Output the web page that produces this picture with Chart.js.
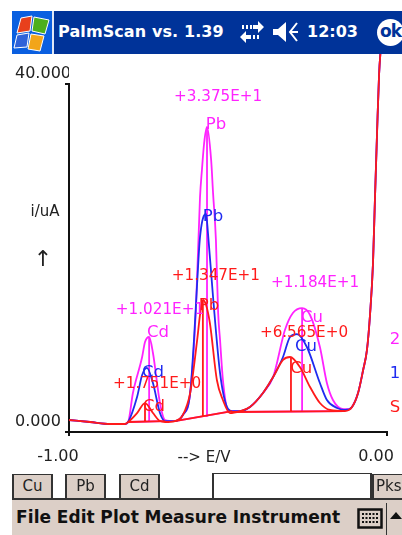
<!DOCTYPE html>
<html><head><meta charset="utf-8">
<script src="https://cdn.jsdelivr.net/npm/chart.js@4/dist/chart.umd.min.js"></script>
<style>
html,body{margin:0;padding:0;background:#fff;width:402px;height:535px;overflow:hidden;font-family:"DejaVu Sans",sans-serif}
#c{position:absolute;left:0;top:0;width:402px;height:535px}
.ab{position:absolute}
#bar{left:12px;top:11px;width:390px;height:43px;background:#003399;overflow:hidden;z-index:2}
#logo{left:0;top:0;width:42px;height:43px;background:#0a5fe0;border-right:2px solid #dfe6f5;box-sizing:border-box}
#title{left:46px;top:11px;color:#fff;font:bold 16px "DejaVu Sans";white-space:nowrap;letter-spacing:.1px}
#time{left:295px;top:11px;color:#fff;font:bold 16px "DejaVu Sans"}
#ok{left:365px;top:8px;width:27px;height:27px;border-radius:50%;background:#fff;color:#003399;font:bold 17px/25px "DejaVu Sans";text-align:center;letter-spacing:-1px}
.tab{position:absolute;top:474px;height:24px;box-sizing:border-box;border:2px solid #333;border-bottom:none;border-top-width:1px;background:#dccfc7;color:#222;font:15px/23px "DejaVu Sans";text-align:center;z-index:2;overflow:hidden}
#input{left:212px;top:473px;width:160px;height:25px;box-sizing:border-box;border:2px solid #333;border-bottom:none;border-top-width:1px;background:#fff;z-index:2}
#menu{left:12px;top:498px;width:390px;height:37px;background:#dccfc7;border-top:2px solid #333;box-sizing:border-box;z-index:2}
#mtext{left:4px;top:7px;font:bold 17px "DejaVu Sans";color:#111;white-space:pre;word-spacing:-.5px;letter-spacing:.1px}
#sep{left:374px;top:3px;width:1px;height:32px;background:#333}
</style></head><body>
<canvas id="c" width="402" height="535"></canvas>
<div class="ab" id="bar">
 <div class="ab" id="logo"><svg width="40" height="43" viewBox="0 0 40 43">
  <g stroke="#fff" stroke-width="1"><path d="M9 7 L20 5 L18 20 L5 22Z" fill="#e8401c"/><path d="M22 6 L37 9 L33 23 L20 20Z" fill="#4caf1e"/><path d="M5 24 L17 22 L15 36 L2 37Z" fill="#2f62d8"/><path d="M19 23 L32 25 L28 40 L16 38Z" fill="#f2a51a"/></g></svg></div>
 <div class="ab" id="title">PalmScan vs. 1.39</div>
 <svg class="ab" style="left:227px;top:8px" width="26" height="26" viewBox="0 0 26 26"><g fill="#fff"><path d="M14 6h5V2l6 6-6 6v-4h-5z"/><path d="M12 16H7v-4l-6 6 6 6v-4h5z"/><rect x="3" y="6" width="2" height="4"/><rect x="7" y="6" width="2" height="4"/><rect x="11" y="6" width="2" height="4"/><rect x="14" y="16" width="2" height="4"/><rect x="18" y="16" width="2" height="4"/></g></svg>
 <svg class="ab" style="left:260px;top:9px" width="28" height="24" viewBox="0 0 28 24"><path d="M1 9h5l8-7v20l-8-7H1z" fill="#fff"/><path d="M25 3l-7 9 7 9M18 12h8" stroke="#fff" stroke-width="2" fill="none"/></svg>
 <div class="ab" id="time">12:03</div>
 <div class="ab" id="ok">ok</div>
</div>
<div class="tab" style="left:12px;width:41px">Cu</div>
<div class="tab" style="left:65px;width:41px">Pb</div>
<div class="tab" style="left:119px;width:41px">Cd</div>
<div class="ab" id="input"></div>
<div class="tab" style="left:372px;width:32px;text-align:left;padding-left:2px;border-right:none">Pks</div>
<div class="ab" id="menu">
 <div class="ab" id="mtext">File Edit Plot Measure Instrument</div>
 <svg class="ab" style="left:345px;top:8px" width="26" height="22" viewBox="0 0 26 22"><rect x="1.5" y="1.5" width="23" height="18" fill="none" stroke="#111" stroke-width="2.5"/><path d="M5 6h16M5 10h16M5 14h16" stroke="#111" stroke-width="2" stroke-dasharray="2 1.5"/></svg>
 <div class="ab" id="sep"></div>
 <svg class="ab" style="left:378px;top:12px" width="12" height="8" viewBox="0 0 12 8"><path d="M6 0l6 7H0z" fill="#111"/></svg>
</div>
<script>
const redE=[-1.000,-0.934,-0.871,-0.824,-0.814,-0.786,-0.761,-0.736,-0.714,-0.698,-0.667,-0.642,-0.619,-0.597,-0.588,-0.579,-0.569,-0.557,-0.535,-0.516,-0.494,-0.462,-0.431,-0.390,-0.358,-0.327,-0.305,-0.274,-0.242,-0.211,-0.179,-0.132,-0.110,-0.091,-0.075,-0.063,-0.053,-0.044,-0.038,-0.031,-0.025,-0.019];
const redI=[1.38,1.15,0.92,0.92,1.15,2.18,3.33,2.18,1.26,1.15,1.26,1.95,4.48,10.57,13.45,15.17,14.60,12.53,5.98,3.68,2.18,2.41,2.87,4.48,6.32,8.28,8.62,7.47,5.17,3.33,2.53,2.41,2.87,4.48,7.13,9.43,13.68,19.42,26.67,34.71,41.03,44.48];
const blueE=[-1.000,-0.934,-0.871,-0.824,-0.814,-0.786,-0.770,-0.755,-0.736,-0.714,-0.698,-0.667,-0.642,-0.619,-0.607,-0.597,-0.588,-0.569,-0.563,-0.547,-0.525,-0.503,-0.487,-0.462,-0.431,-0.390,-0.358,-0.327,-0.305,-0.283,-0.252,-0.211,-0.189,-0.157,-0.132,-0.110,-0.091,-0.075,-0.063,-0.053,-0.044,-0.038,-0.031,-0.025,-0.019];
const blueI=[1.38,1.15,0.92,0.92,1.15,4.02,6.55,7.36,5.63,2.18,1.26,1.26,1.95,4.48,10.57,17.13,22.41,25.06,22.87,15.52,6.78,2.87,2.41,2.41,2.87,4.48,6.32,8.62,10.92,11.26,9.77,5.63,3.68,2.76,2.53,2.87,4.48,7.13,9.43,13.68,19.42,26.67,34.71,41.03,44.48];
const magE=[-1.000,-0.934,-0.871,-0.824,-0.814,-0.799,-0.770,-0.761,-0.748,-0.736,-0.714,-0.698,-0.667,-0.642,-0.619,-0.601,-0.588,-0.582,-0.575,-0.566,-0.553,-0.547,-0.538,-0.531,-0.525,-0.516,-0.500,-0.487,-0.462,-0.431,-0.390,-0.358,-0.321,-0.296,-0.267,-0.242,-0.211,-0.189,-0.170,-0.138,-0.116,-0.110,-0.091,-0.075,-0.063,-0.053,-0.044,-0.038,-0.031,-0.025,-0.019];
const magI=[1.38,1.15,0.92,0.92,1.15,4.48,8.62,10.34,10.92,9.08,3.33,1.38,1.26,1.95,4.48,14.02,27.01,30.11,33.22,35.06,31.26,27.47,22.07,13.68,10.57,5.98,2.53,2.41,2.41,2.87,4.48,6.32,11.72,13.68,14.25,13.45,9.77,5.63,3.68,2.64,2.64,2.87,4.48,7.13,9.43,13.68,19.42,26.67,34.71,41.03,44.48];
const redMarkE=[-0.761,-0.761,null,-0.579,-0.579,null,-0.302,-0.302,null,-0.814,-0.698,null,-0.667,-0.487,null,-0.487,-0.132];
const redMarkI=[1.15,3.33,null,1.72,15.17,null,2.30,8.62,null,1.15,1.26,null,1.26,2.41,null,2.30,2.41];
const magMarkE=[-0.748,-0.748,null,-0.566,-0.566,null,-0.267,-0.267,null,-0.814,-0.698,null,-0.667,-0.487,null,-0.487,-0.132];
const magMarkI=[1.15,10.92,null,1.72,35.06,null,2.30,14.25,null,1.15,1.26,null,1.26,2.41,null,2.30,2.41];
const xTicks=[-1,0], xTickLabels=['-1.00','0.00'];
const yTicks=[0,40], yTickLabels=['0.000','40.000'];
const labelText=['+3.375E+1','Pb','Pb','+1.347E+1','Pb','+1.021E+1','Cd','Cd','+1.751E+0','Cd','+1.184E+1','Cu','+6.565E+0','Cu','Cu','2','1','S'];
const labelE=[-0.531,-0.538,-0.547,-0.538,-0.560,-0.714,-0.720,-0.736,-0.723,-0.733,-0.226,-0.236,-0.261,-0.255,-0.270,0.025,0.025,0.025];
const labelI=[38.5,35.3,24.7,17.93,14.48,14.02,11.38,6.78,5.52,2.87,17.13,13.1,11.38,9.77,7.24,10.57,6.67,2.76];
const labelColor=['m','m','b','r','r','m','m','b','r','r','m','m','r','b','r','m','b','r'];
const colors={r:'#ff1a1a',b:'#1f2bf0',m:'#ff22ff'};
const pts=(E,I)=>E.map((e,k)=>({x:e,y:I[k]}));
const curve=(E,I,c)=>({data:pts(E,I),borderColor:c,borderWidth:1.8,pointRadius:0,cubicInterpolationMode:'monotone',clip:false,fill:false});
const marks=(E,I,c)=>({data:pts(E,I),borderColor:c,borderWidth:1.8,pointRadius:0,tension:0,clip:false,fill:false,spanGaps:false});
const textPlugin={id:'peakText',afterDatasetsDraw(ch){
  const g=ch.ctx,x=ch.scales.x,y=ch.scales.y;
  g.save();g.textAlign='center';g.textBaseline='middle';
  labelText.forEach((t,k)=>{g.font=(t.length>2?'15.2px':'16.5px')+' "DejaVu Sans"';g.fillStyle=colors[labelColor[k]];g.fillText(t,x.getPixelForValue(labelE[k]),y.getPixelForValue(labelI[k]));});
  g.font='15px "DejaVu Sans"';g.fillStyle='#222';
  g.fillText('i/uA',45,212);
  g.fillText('--> E/V',204,458);
  g.font='22px "DejaVu Sans"';
  g.fillText('\u2191',43,260);
  g.restore();
}};
new Chart(document.getElementById('c'),{
 type:'line',
 data:{datasets:[curve(redE,redI,colors.r),marks(redMarkE,redMarkI,colors.r),curve(blueE,blueI,colors.b),curve(magE,magI,colors.m),marks(magMarkE,magMarkI,colors.m)]},
 plugins:[textPlugin],
 options:{responsive:false,animation:false,devicePixelRatio:1,
  layout:{padding:{top:84,right:15,bottom:68,left:15}},
  plugins:{legend:{display:false},tooltip:{enabled:false}},
  scales:{
   x:{type:'linear',min:-1,max:0,
    afterFit:s=>{s.height=35;s.paddingLeft=0;s.paddingRight=0},
    afterBuildTicks:s=>{s.ticks=xTicks.map(v=>({value:v}))},
    border:{color:'#111',width:2},
    grid:{drawOnChartArea:false,color:'#111',tickLength:4,lineWidth:2},
    ticks:{autoSkip:false,maxRotation:0,padding:11,labelOffset:-11,color:'#222',font:{family:'DejaVu Sans',size:16},callback:v=>xTickLabels[xTicks.indexOf(v)]}},
   y:{type:'linear',min:0,max:40,
    afterFit:s=>{s.width=54;s.paddingTop=0;s.paddingBottom=0},
    afterBuildTicks:s=>{s.ticks=yTicks.map(v=>({value:v}))},
    border:{color:'#111',width:2},
    grid:{drawOnChartArea:false,color:'#111',tickLength:4,lineWidth:2},
    ticks:{autoSkip:false,crossAlign:'far',labelOffset:-10,color:'#222',font:{family:'DejaVu Sans',size:16},callback:v=>yTickLabels[yTicks.indexOf(v)]}}
  }}
});
</script>
</body></html>
